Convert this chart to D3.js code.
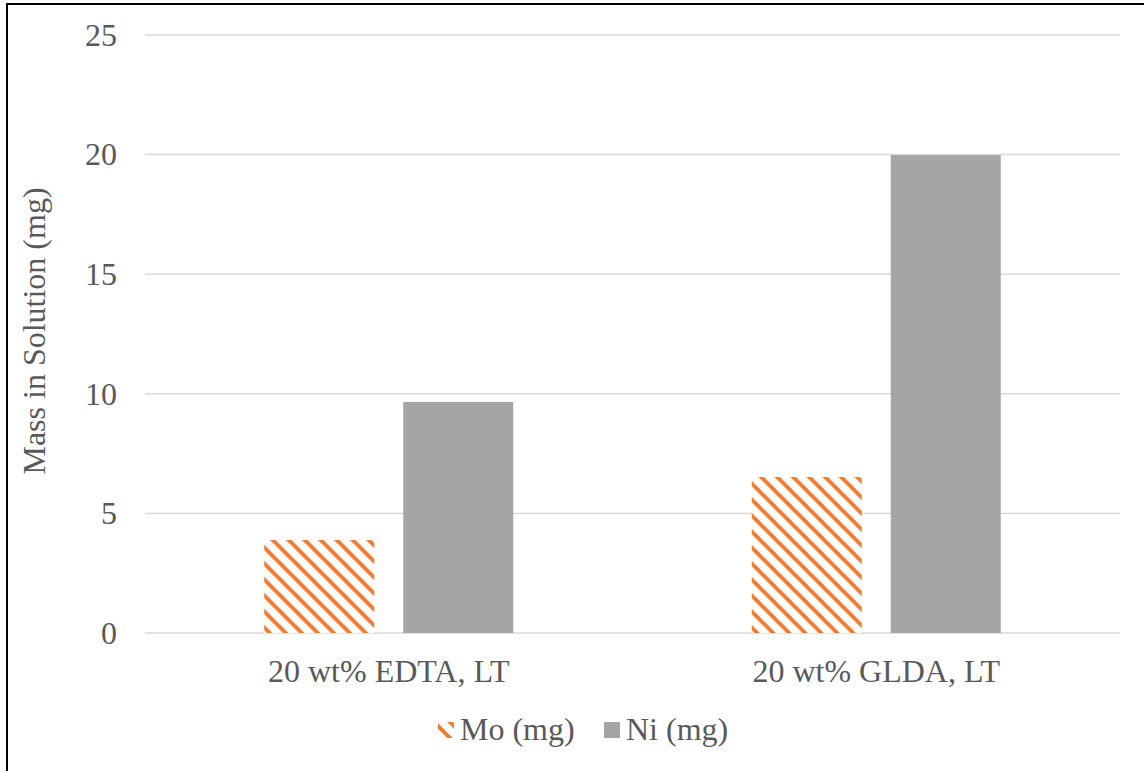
<!DOCTYPE html>
<html>
<head>
<meta charset="utf-8">
<script src="https://cdn.jsdelivr.net/npm/d3@7"></script>
<style>
  html, body { margin: 0; padding: 0; background: #fff; }
  svg { display: block; }
  svg text { fill: #595959; }
</style>
</head>
<body>
<svg id="chart" width="1144" height="771"></svg>
<script>
// Dissolved metal mass per chelating solution
const categories = ["20 wt% EDTA, LT", "20 wt% GLDA, LT"];
const seriesNames = ["Mo (mg)", "Ni (mg)"];
const moValues = [3.89, 6.52];
const niValues = [9.66, 19.98];
const yTicks = [0, 5, 10, 15, 20, 25];
const yTitle = "Mass in Solution (mg)";

const W = 1144, H = 771;
const margin = { left: 145, right: 24, top: 35, bottom: 138 };
const serif = "'Liberation Serif', 'Times New Roman', serif";
const fontSize = 32;
const svg = d3.select("#chart");

// Chart frame
svg.append("rect")
  .attr("x", 7).attr("y", 4)
  .attr("width", W + 20).attr("height", H + 20)
  .attr("fill", "#fff").attr("stroke", "#000").attr("stroke-width", 2);

// Diagonal hatch for the Mo series
const defs = svg.append("defs");
const pat = defs.append("pattern")
  .attr("id", "hatch")
  .attr("patternUnits", "userSpaceOnUse")
  .attr("width", 16).attr("height", 16);
pat.append("rect").attr("width", 16).attr("height", 16).attr("fill", "#fff");
[[-16, -16, 32, 32], [-16, 0, 16, 32], [0, -16, 32, 16]].forEach(([x1, y1, x2, y2]) => {
  pat.append("line")
    .attr("x1", x1).attr("y1", y1).attr("x2", x2).attr("y2", y2)
    .attr("stroke", "#ED7D31").attr("stroke-width", 4);
});

const x0 = d3.scaleBand()
  .domain(categories)
  .range([margin.left, W - margin.right]);

const y = d3.scaleLinear()
  .domain([0, 25])
  .range([H - margin.bottom, margin.top]);

// Gridlines
svg.append("g")
  .selectAll("line")
  .data(yTicks)
  .join("line")
  .attr("x1", margin.left).attr("x2", W - margin.right)
  .attr("y1", d => y(d)).attr("y2", d => y(d))
  .attr("stroke", "#D9D9D9").attr("stroke-width", 1.5);

// Y axis labels
const yAxis = d3.axisLeft(y).tickValues(yTicks).tickSize(0).tickPadding(28);
const yg = svg.append("g")
  .attr("transform", `translate(${margin.left},0)`)
  .call(yAxis)
  .attr("font-family", serif)
  .attr("font-size", fontSize);
yg.select(".domain").remove();
yg.selectAll("text").attr("fill", "#595959");

// Bars
const barW = 110, gap = 29;
const series = [
  { name: seriesNames[0], values: moValues, fill: "url(#hatch)" },
  { name: seriesNames[1], values: niValues, fill: "#A5A5A5" }
];
const x1 = d3.scaleOrdinal().domain(seriesNames).range([-(gap / 2 + barW / 2), gap / 2 + barW / 2]);

const groups = svg.append("g")
  .selectAll("g")
  .data(categories)
  .join("g")
  .attr("transform", d => `translate(${x0(d) + x0.bandwidth() / 2},0)`);

groups.selectAll("rect")
  .data((d, i) => series.map(s => ({ name: s.name, value: s.values[i], fill: s.fill })))
  .join("rect")
  .attr("x", d => x1(d.name) - barW / 2)
  .attr("width", barW)
  .attr("y", d => y(d.value))
  .attr("height", d => y(0) - y(d.value))
  .attr("fill", d => d.fill);

// Category labels
svg.append("g")
  .selectAll("text")
  .data(categories)
  .join("text")
  .attr("x", d => x0(d) + x0.bandwidth() / 2)
  .attr("y", 682)
  .attr("text-anchor", "middle")
  .attr("font-family", serif)
  .attr("font-size", fontSize)
  .text(d => d);

// Y axis title
svg.append("text")
  .attr("transform", `translate(45,331) rotate(-90)`)
  .attr("text-anchor", "middle")
  .attr("font-family", serif)
  .attr("font-size", fontSize)
  .text(yTitle);

// Legend
const legend = svg.append("g");
const legendItems = [
  { name: seriesNames[0], fill: "url(#hatch)", x: 438 },
  { name: seriesNames[1], fill: "#A5A5A5", x: 604 }
];
legendItems.forEach(item => {
  legend.append("rect")
    .attr("x", item.x).attr("y", 722)
    .attr("width", 16).attr("height", 16)
    .attr("fill", item.fill);
  legend.append("text")
    .attr("x", item.x + 22).attr("y", 740)
    .attr("font-family", serif)
    .attr("font-size", fontSize)
    .text(item.name);
});
</script>
</body>
</html>
